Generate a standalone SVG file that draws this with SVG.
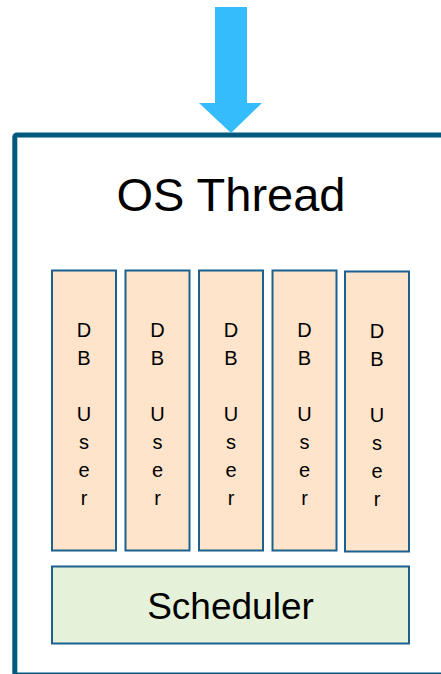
<svg xmlns="http://www.w3.org/2000/svg" width="441" height="674" viewBox="0 0 441 674">
<style>
.frame{fill:#ffffff;stroke:#03587e;stroke-width:5}
.user{fill:#fde4ca;stroke:#1a6190;stroke-width:2}
.sched{fill:#e5f2d9;stroke:#1a6190;stroke-width:2}
.t{font-family:"Liberation Sans",Arial,sans-serif;fill:#000;text-anchor:middle}
.u{font-size:20px}
</style>
<rect width="441" height="674" fill="#ffffff"/>
<g id="os-thread">
<rect class="frame" x="14.8" y="135" width="460" height="540" rx="2"/>
<text class="t" x="231" y="211" font-size="47">OS Thread</text>
</g>
<g id="connectors">
<polygon points="215,7 247,7 247,103 262,103 231,133 199,103 215,103" fill="#35bcfc"/>
</g>
<g id="user1">
<rect class="user" x="52" y="270.5" width="64" height="280"/>
<text class="t u" x="84" y="337">D</text><text class="t u" x="84" y="365">B</text>
<text class="t u" x="84" y="421">U</text><text class="t u" x="84" y="449">s</text><text class="t u" x="84" y="477">e</text><text class="t u" x="84" y="505">r</text>
</g>
<g id="user2">
<rect class="user" x="125.5" y="270.5" width="64" height="280"/>
<text class="t u" x="157.5" y="337">D</text><text class="t u" x="157.5" y="365">B</text>
<text class="t u" x="157.5" y="421">U</text><text class="t u" x="157.5" y="449">s</text><text class="t u" x="157.5" y="477">e</text><text class="t u" x="157.5" y="505">r</text>
</g>
<g id="user3">
<rect class="user" x="199" y="270.5" width="64" height="280"/>
<text class="t u" x="231" y="337">D</text><text class="t u" x="231" y="365">B</text>
<text class="t u" x="231" y="421">U</text><text class="t u" x="231" y="449">s</text><text class="t u" x="231" y="477">e</text><text class="t u" x="231" y="505">r</text>
</g>
<g id="user4">
<rect class="user" x="272.5" y="270.5" width="64" height="280"/>
<text class="t u" x="304.5" y="337">D</text><text class="t u" x="304.5" y="365">B</text>
<text class="t u" x="304.5" y="421">U</text><text class="t u" x="304.5" y="449">s</text><text class="t u" x="304.5" y="477">e</text><text class="t u" x="304.5" y="505">r</text>
</g>
<g id="user5">
<rect class="user" x="345" y="271.5" width="64" height="280"/>
<text class="t u" x="377" y="338">D</text><text class="t u" x="377" y="366">B</text>
<text class="t u" x="377" y="422">U</text><text class="t u" x="377" y="450">s</text><text class="t u" x="377" y="478">e</text><text class="t u" x="377" y="506">r</text>
</g>
<g id="scheduler">
<rect class="sched" x="52" y="566.5" width="357" height="77"/>
<text class="t" x="230.5" y="619" font-size="37">Scheduler</text>
</g>
</svg>
